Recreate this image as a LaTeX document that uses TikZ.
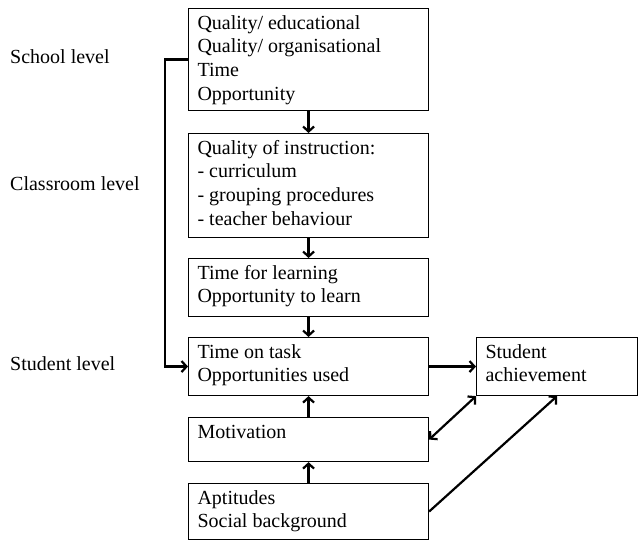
\documentclass[tikz,border=0pt]{standalone}
\usepackage{fontspec}
\setmainfont{Liberation Serif}
\usetikzlibrary{arrows.meta}
\newcommand\boxtext[3]{\parbox[c][#1][t]{#2}{\rule{0pt}{20.5pt}#3}}
\begin{document}
\begin{tikzpicture}[x=1pt,y=-1pt,
  box/.style={draw, line width=1.1pt, anchor=north west, inner xsep=9pt, inner ysep=0pt, align=left,
    font=\fontsize{20}{23.7}\selectfont},
  lvl/.style={anchor=base west, inner sep=0pt, font=\fontsize{20}{23.7}\selectfont},
  conn/.style={line width=2.2pt, -{Straight Barb[length=5pt,width=11pt]}},
  dconn/.style={line width=2.2pt, {Straight Barb[length=5pt,width=11pt]}-{Straight Barb[length=5pt,width=11pt]}}
]
\useasboundingbox (0,0) rectangle (639,540);
\node[box] (b1) at (188,8) {\boxtext{102pt}{222pt}{Quality/ educational\\Quality/ organisational\\Time\\Opportunity}};
\node[box] (b2) at (188,133) {\boxtext{104pt}{222pt}{Quality of instruction:\\- curriculum\\- grouping procedures\\- teacher behaviour}};
\node[box] (b3) at (188,258) {\boxtext{58pt}{222pt}{Time for learning\\Opportunity to learn}};
\node[box] (b4) at (188,337) {\boxtext{58pt}{222pt}{Time on task\\Opportunities used}};
\node[box] (b5) at (476,337) {\boxtext{58pt}{143pt}{Student\\achievement}};
\node[box] (b6) at (188,417) {\boxtext{44pt}{222pt}{Motivation}};
\node[box] (b7) at (188,483) {\boxtext{56pt}{222pt}{Aptitudes\\Social background}};

\node[lvl] (l1) at (10,64) {School level};
\node[lvl] (l2) at (10,190) {Classroom level};
\node[lvl] (l3) at (10,370) {Student level};

\draw[conn] (b1.south) -- (b2.north);
\draw[conn] (b2.south) -- (b3.north);
\draw[conn] (b3.south) -- (b4.north);
\draw[conn] (b6.north) -- (b4.south);
\draw[conn] (b7.north) -- (b6.south);
\draw[conn] (b4.east) -- (b5.west);
\draw[dconn] (b6.east) -- (b5.south west);
\draw[conn] (b7.east) -- (b5.south);
\draw[conn] (b1.west) -- ++(-23,0) |- (b4.west);
\end{tikzpicture}
\end{document}
